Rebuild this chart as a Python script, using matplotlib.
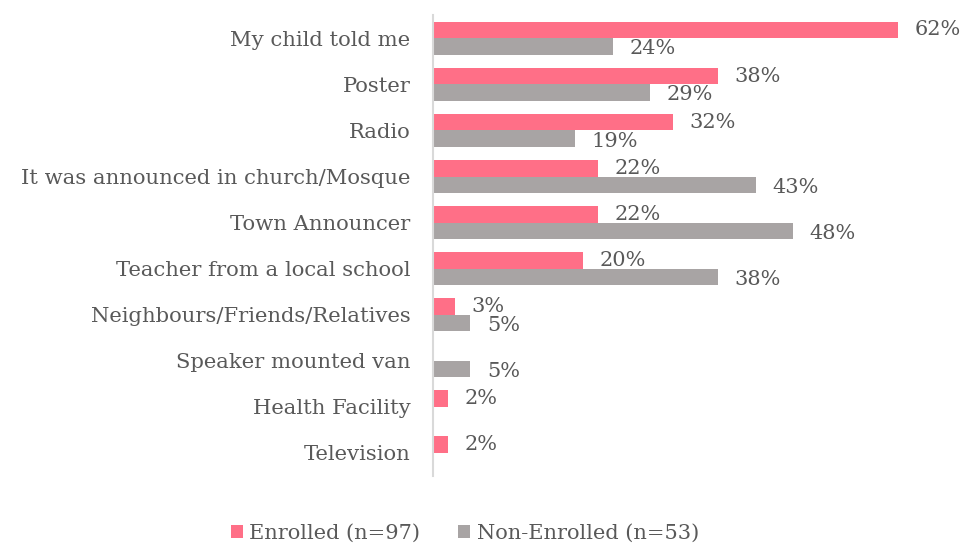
import numpy as np
import matplotlib.pyplot as plt

categories = ["My child told me", "Poster", "Radio", "It was announced in church/Mosque",
              "Town Announcer", "Teacher from a local school", "Neighbours/Friends/Relatives",
              "Speaker mounted van", "Health Facility", "Television"]
enrolled = [62, 38, 32, 22, 22, 20, 3, 0, 2, 2]
non_enrolled = [24, 29, 19, 43, 48, 38, 5, 5, 0, 0]
series_names = ["Enrolled (n=97)", "Non-Enrolled (n=53)"]

pink = "#FF6F87"
grey = "#A8A4A4"
text_col = "#595959"

plt.rcParams['font.family'] = ['DejaVu Serif']

fig = plt.figure(figsize=(9.68, 5.44), dpi=100)
ax = fig.add_axes([0.447, 0.125, 0.543, 0.847])

y = np.arange(len(categories))
h = 0.36
b1 = ax.barh(y - h / 2, enrolled, height=h, color=pink, label=series_names[0])
b2 = ax.barh(y + h / 2, non_enrolled, height=h, color=grey, label=series_names[1])

# data labels, skipping empty bars
for bars, vals, dy in [(b1, enrolled, 0.0), (b2, non_enrolled, 0.05)]:
    for rect, v in zip(bars, vals):
        if v == 0:
            continue
        ax.text(v + 2.2, rect.get_y() + rect.get_height() / 2 + dy, f"{v}%",
                va="center", ha="left", fontsize=15, color=text_col)

ax.set_xlim(0, 70)
ax.set_ylim(len(categories) - 0.5, -0.5)
ax.set_yticks(y)
ax.set_yticklabels(categories, fontsize=15.2, color=text_col)
ax.tick_params(axis="y", length=0, pad=16)
ax.set_xticks([])
for s in ["top", "right", "bottom"]:
    ax.spines[s].set_visible(False)
ax.spines["left"].set_color("#D9D9D9")
ax.spines["left"].set_linewidth(1.5)

fig.legend(handles=[b1, b2], labels=series_names, loc="center", bbox_to_anchor=(0.48, 0.02),
           ncol=2, frameon=False, fontsize=15, labelcolor=text_col,
           handlelength=0.6, handleheight=0.6, handletextpad=0.3, columnspacing=1.8)

fig.savefig("out.png", dpi=100)
